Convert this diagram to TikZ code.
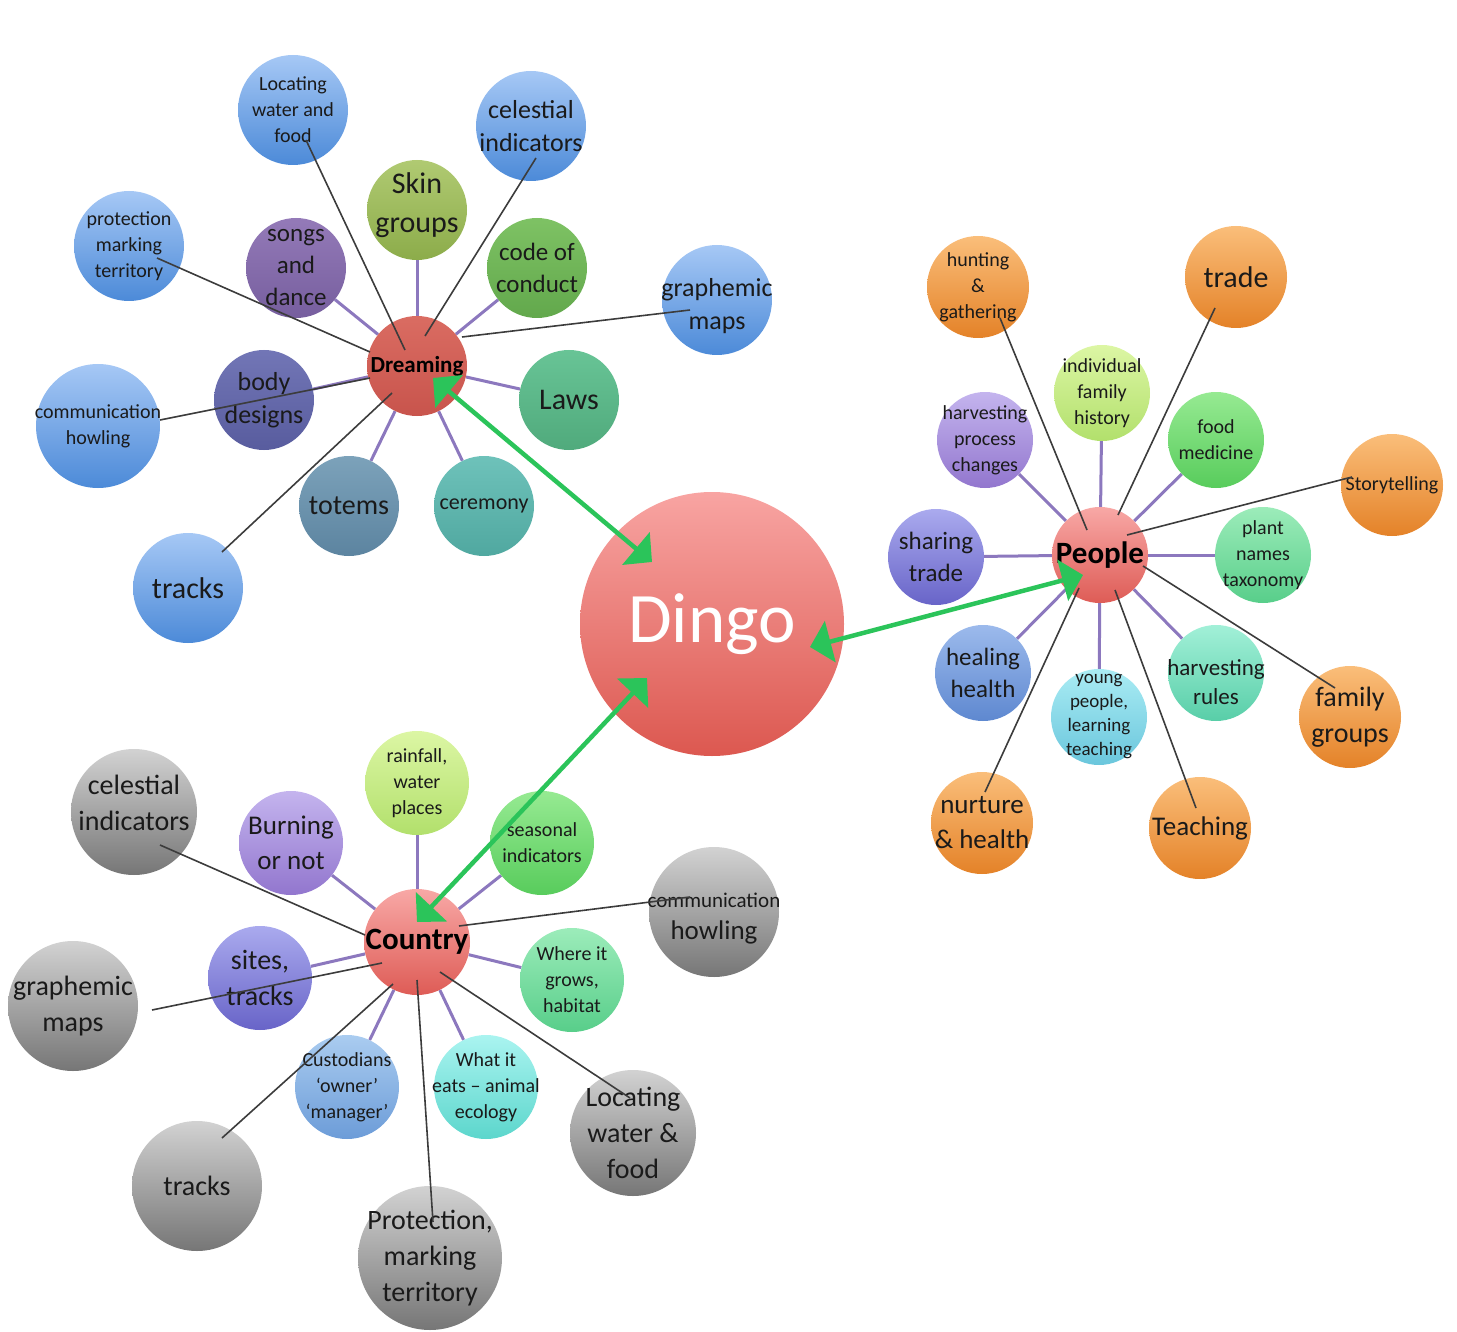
\documentclass[tikz,border=0pt]{standalone}
\usepackage{fontspec}
\setmainfont{Carlito}
\usetikzlibrary{calc,arrows.meta}
\pgfdeclarelayer{bg}
\pgfsetlayers{bg,main}
\definecolor{plc}{HTML}{8C78BE}
\definecolor{glc}{HTML}{3C3C3C}
\definecolor{arrg}{HTML}{2BC45A}
\definecolor{txc}{HTML}{1A1A1A}
\tikzset{
  ball/.style={circle,inner sep=0pt,draw=none},
  txt/.style={align=center,inner sep=0pt,text=txc},
  s19/.style={font=\fontsize{19}{24}\selectfont},
  s20/.style={font=\fontsize{20}{26}\selectfont},
  s22/.style={font=\fontsize{22}{28}\selectfont},
  s23/.style={font=\fontsize{23}{29}\selectfont},
  s25/.style={font=\fontsize{25}{32}\selectfont},
  s26/.style={font=\fontsize{26}{33}\selectfont},
  s27/.style={font=\fontsize{27}{35}\selectfont},
  s28/.style={font=\fontsize{28}{36}\selectfont},
  s30/.style={font=\fontsize{30}{39}\selectfont},
  hub/.style={font=\fontsize{#1}{#1}\selectfont\bfseries,text=black},
  pl/.style={draw=plc,line width=3pt},
  gl/.style={draw=glc,line width=1.6pt},
  ga/.style={draw=arrg,line width=4.5pt,{Triangle[width=42pt,length=21pt]}-{Triangle[width=42pt,length=21pt]}},
  shBlue/.style={top color={rgb,255:red,166;green,200;blue,245},bottom color={rgb,255:red,76;green,138;blue,216}},
  shOrange/.style={top color={rgb,255:red,250;green,190;blue,122},bottom color={rgb,255:red,228;green,130;blue,40}},
  shGray/.style={top color={rgb,255:red,210;green,210;blue,210},bottom color={rgb,255:red,118;green,118;blue,118}},
  shRed/.style={top color={rgb,255:red,218;green,108;blue,98},bottom color={rgb,255:red,200;green,84;blue,76}},
  shPink/.style={top color={rgb,255:red,248;green,168;blue,166},bottom color={rgb,255:red,222;green,92;blue,86}},
  shOlive/.style={top color={rgb,255:red,176;green,202;blue,114},bottom color={rgb,255:red,140;green,172;blue,74}},
  shPurple/.style={top color={rgb,255:red,148;green,122;blue,184},bottom color={rgb,255:red,118;green,94;blue,158}},
  shGreen/.style={top color={rgb,255:red,126;green,194;blue,100},bottom color={rgb,255:red,98;green,168;blue,76}},
  shSlate/.style={top color={rgb,255:red,114;green,118;blue,182},bottom color={rgb,255:red,88;green,92;blue,158}},
  shLaws/.style={top color={rgb,255:red,104;green,196;blue,150},bottom color={rgb,255:red,80;green,170;blue,124}},
  shSteel/.style={top color={rgb,255:red,124;green,162;blue,186},bottom color={rgb,255:red,92;green,132;blue,160}},
  shTeal/.style={top color={rgb,255:red,110;green,194;blue,186},bottom color={rgb,255:red,80;green,168;blue,160}},
  shLime/.style={top color={rgb,255:red,220;green,246;blue,164},bottom color={rgb,255:red,178;green,224;blue,108}},
  shLav/.style={top color={rgb,255:red,196;green,180;blue,238},bottom color={rgb,255:red,146;green,118;blue,206}},
  shGreenB/.style={top color={rgb,255:red,150;green,234;blue,146},bottom color={rgb,255:red,88;green,204;blue,92}},
  shBluePurple/.style={top color={rgb,255:red,170;green,170;blue,238},bottom color={rgb,255:red,104;green,100;blue,200}},
  shMint/.style={top color={rgb,255:red,156;green,236;blue,186},bottom color={rgb,255:red,88;green,206;blue,138}},
  shBlueB/.style={top color={rgb,255:red,156;green,186;blue,236},bottom color={rgb,255:red,94;green,136;blue,208}},
  shCyan/.style={top color={rgb,255:red,170;green,236;blue,244},bottom color={rgb,255:red,106;green,198;blue,220}},
  shAqua/.style={top color={rgb,255:red,162;green,240;blue,216},bottom color={rgb,255:red,88;green,206;blue,168}},
  shAquaB/.style={top color={rgb,255:red,170;green,244;blue,240},bottom color={rgb,255:red,92;green,214;blue,204}},
  shLBlue/.style={top color={rgb,255:red,170;green,204;blue,240},bottom color={rgb,255:red,108;green,156;blue,216}},
}
\newcommand\bub[7]{%
  \node[ball,#5,minimum size=#4pt] (#1) at (#2,#3) {};
  \node[txt,#6] (#1t) at (#1) {#7};}
\begin{document}
\begin{tikzpicture}[x=1pt,y=-1pt]
\useasboundingbox (0,0) rectangle (1457,1332);
% ---------------- Dreaming cluster
\bub{dLoc}{293}{110}{110}{shBlue}{s20}{Locating\\water and\\food}
\bub{dCel}{531}{126}{110}{shBlue}{s26}{celestial\\indicators}
\bub{dSkin}{417}{210}{100}{shOlive}{s30,yshift=5pt}{Skin\\groups}
\bub{dProt}{129}{246}{110}{shBlue}{s20}{protection\\marking\\territory}
\bub{dSong}{296}{268}{100}{shPurple}{s25}{songs\\and\\dance}
\bub{dCode}{537}{268}{100}{shGreen}{s25}{code of\\conduct}
\bub{dGraph}{717}{300}{110}{shBlue}{s26,yshift=-6pt}{graphemic\\maps}
\bub{dBody}{264}{400}{100}{shSlate}{s26}{body\\designs}
\bub{dLaws}{569}{400}{100}{shLaws}{s30}{Laws}
\bub{dComm}{98}{426}{124}{shBlue}{s20}{communication\\howling}
\bub{dTot}{349}{506}{100}{shSteel}{s28}{totems}
\bub{dCer}{484}{506}{100}{shTeal}{s22}{ceremony}
\bub{dTrk}{188}{588}{110}{shBlue}{s30}{tracks}
\bub{dream}{417}{366}{100}{shRed}{hub=23}{Dreaming}
% ---------------- People cluster
\bub{pHunt}{978}{287}{102}{shOrange}{s20}{hunting\\\&\\gathering}
\bub{pTrade}{1236}{277}{102}{shOrange}{s30}{trade}
\bub{pInd}{1102}{393}{96}{shLime}{s20}{individual\\family\\history}
\bub{pHarv}{985}{440}{96}{shLav}{s20}{harvesting\\process\\changes}
\bub{pFood}{1216}{440}{96}{shGreenB}{s20}{food\\medicine}
\bub{pStory}{1392}{485}{102}{shOrange}{s20}{Storytelling}
\bub{pShare}{936}{557}{96}{shBluePurple}{s25}{sharing\\trade}
\bub{pPlant}{1263}{555}{96}{shMint}{s20}{plant\\names\\taxonomy}
\bub{pHeal}{983}{673}{96}{shBlueB}{s25}{healing\\health}
\bub{pYoung}{1099}{717}{96}{shCyan}{s19}{young\\people,\\learning\\teaching}
\bub{pRules}{1216}{673}{96}{shAqua}{s23,yshift=-9pt}{harvesting\\rules}
\bub{pFam}{1350}{717}{102}{shOrange}{s28}{family\\groups}
\bub{pNurt}{982}{823}{102}{shOrange}{s27}{nurture\\\& health}
\bub{pTeach}{1200}{828}{102}{shOrange}{s27}{Teaching}
\bub{people}{1100}{555}{96}{shPink}{hub=31}{People}
% ---------------- Country cluster
\bub{cCel}{134}{812}{126}{shGray}{s28,yshift=9pt}{celestial\\indicators}
\bub{cBurn}{291}{843}{104}{shLav}{s27}{Burning\\or not}
\bub{cRain}{417}{783}{104}{shLime}{s20}{rainfall,\\water\\places}
\bub{cSeas}{542}{843}{104}{shGreenB}{s20}{seasonal\\indicators}
\bub{cComm}{714}{912}{130}{shGray}{font=\fontsize{27}{32}\selectfont,yshift=-7pt}{{\fontsize{21}{26}\selectfont communication}\\howling}
\bub{cGraph}{73}{1006}{130}{shGray}{s28}{graphemic\\maps}
\bub{cSites}{260}{978}{104}{shBluePurple}{s28}{sites,\\tracks}
\bub{cWhere}{572}{980}{104}{shMint}{s20}{Where it\\grows,\\habitat}
\bub{cCust}{347}{1087}{104}{shLBlue}{s20}{Custodians\\‘owner’\\‘manager’}
\bub{cEats}{486}{1087}{104}{shAquaB}{s20}{What it\\eats – animal\\ecology}
\bub{cLoc}{633}{1133}{126}{shGray}{s28}{Locating\\water \&\\food}
\bub{cTrk}{197}{1186}{130}{shGray}{s28}{tracks}
\bub{cProt}{430}{1258}{144}{shGray}{s28}{Protection,\\marking\\territory}
\bub{country}{417}{942}{106}{shPink}{hub=31}{Country}
% ---------------- Dingo
\node[ball,minimum size=264pt,top color={rgb,255:red,248;green,164;blue,162},bottom color={rgb,255:red,220;green,88;blue,80}] (dingo) at (712,624) {};
\node[txt,text=white,font=\fontsize{71}{71}\selectfont] (dingot) at (dingo) {Dingo};
% ---------------- purple spokes (behind circles)
\begin{pgfonlayer}{bg}
\foreach \s in {dSkin,dSong,dCode,dBody,dLaws,dTot,dCer} \draw[pl] (dream) -- (\s);
\foreach \s in {pInd,pHarv,pFood,pShare,pPlant,pHeal,pYoung,pRules} \draw[pl] (people) -- (\s);
\foreach \s in {cBurn,cRain,cSeas,cSites,cWhere,cCust,cEats} \draw[pl] (country) -- (\s);
\end{pgfonlayer}
% ---------------- grey spokes (over circles)
\draw[gl] ($(dLoc)+(13,30)$) -- ($(dream)+(-12,-16)$);
\draw[gl] ($(dCel)+(5,32)$) -- ($(dream)+(8,-30)$);
\draw[gl] ($(dProt)+(28,12)$) -- ($(dream)+(-47,-14)$);
\draw[gl] ($(dGraph)+(-27,10)$) -- ($(dream)+(45,-29)$);
\draw[gl] ($(dComm)+(62,-6)$) -- ($(dream)+(-47,12)$);
\draw[gl] ($(dTrk)+(34,-36)$) -- ($(dream)+(-25,27)$);
\draw[gl] ($(pHunt)+(22,31)$) -- ($(people)+(-13,-25)$);
\draw[gl] ($(pTrade)+(-21,31)$) -- ($(people)+(18,-40)$);
\draw[gl] ($(pStory)+(-40,-8)$) -- ($(people)+(27,-20)$);
\draw[gl] ($(pFam)+(-15,-29)$) -- ($(people)+(43,11)$);
\draw[gl] ($(pTeach)+(-4,-20)$) -- ($(people)+(15,35)$);
\draw[gl] ($(pNurt)+(3,-31)$) -- ($(people)+(-21,33)$);
\draw[gl] ($(cCel)+(26,33)$) -- ($(country)+(-52,-7)$);
\draw[gl] ($(cGraph)+(79,4)$) -- ($(country)+(-35,21)$);
\draw[gl] ($(cComm)+(-24,-15)$) -- ($(country)+(42,-16)$);
\draw[gl] ($(cTrk)+(25,-48)$) -- ($(country)+(-24,42)$);
\draw[gl] ($(cProt)+(3,-36)$) -- ($(country)+(0,38)$);
\draw[gl] ($(cLoc)+(-3,-35)$) -- ($(country)+(23,30)$);
% ---------------- green double arrows
\draw[ga] ($(dream)+(16,12)$) -- ($(dingo)+(-60,-62)$);
\draw[ga] ($(people)+(-17,20)$) -- ($(dingo)+(98,23)$);
\draw[ga] ($(country)+(0,-20)$) -- ($(dingo)+(-65,54)$);
\end{tikzpicture}
\end{document}
